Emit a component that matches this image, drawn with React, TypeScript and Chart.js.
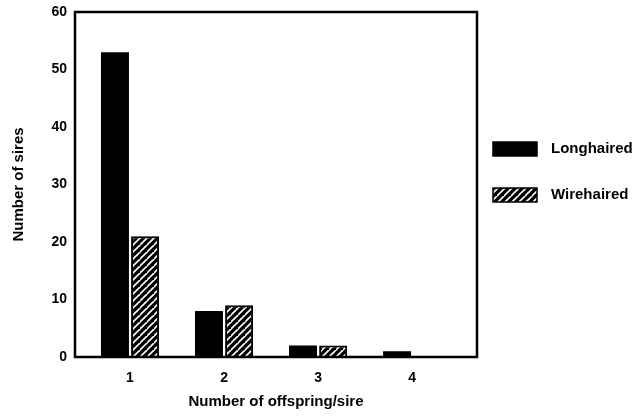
import React, { useEffect, useRef } from "react";
import { Chart, registerables } from "chart.js";

Chart.register(...registerables);

const categories = [1, 2, 3, 4];
const longhaired = [53, 8, 2, 1];
const wirehaired = [21, 9, 2, 0];
const seriesLabels = ["Longhaired", "Wirehaired"];
const yTicks = [0, 10, 20, 30, 40, 50, 60];

const FONT = "'Liberation Sans', Arial, sans-serif";

function makeHatch(): CanvasPattern | string {
  const c = document.createElement("canvas");
  const s = 7;
  c.width = s;
  c.height = s;
  const g = c.getContext("2d");
  if (!g) return "#000";
  g.fillStyle = "#000";
  g.fillRect(0, 0, s, s);
  g.strokeStyle = "#fff";
  g.lineWidth = 1.6;
  g.beginPath();
  g.moveTo(-1, s + 1);
  g.lineTo(s + 1, -1);
  g.moveTo(-s - 1, s + 1);
  g.lineTo(1, -1);
  g.moveTo(s - 1, 2 * s + 1);
  g.lineTo(2 * s + 1, s - 1);
  g.stroke();
  const p = g.createPattern(c, "repeat");
  return p || "#000";
}

const boxPlugin = {
  id: "frameBox",
  afterDatasetsDraw(chart: any) {
    const { ctx, chartArea } = chart;
    ctx.save();
    ctx.strokeStyle = "#000";
    ctx.lineWidth = 2.5;
    ctx.strokeRect(chartArea.left, chartArea.top, chartArea.right - chartArea.left, chartArea.bottom - chartArea.top);
    ctx.restore();
  },
};

const legendPlugin = {
  id: "sideLegend",
  afterDraw(chart: any) {
    const { ctx, chartArea } = chart;
    const x0 = chartArea.right + 16;
    const y0 = chartArea.top + 130;
    const gap = 46;
    ctx.save();
    chart.data.datasets.forEach((ds: any, i: number) => {
      const y = y0 + i * gap;
      ctx.fillStyle = ds.backgroundColor;
      ctx.fillRect(x0, y, 44, 14);
      ctx.strokeStyle = "#000";
      ctx.lineWidth = 1.5;
      ctx.strokeRect(x0, y, 44, 14);
      ctx.fillStyle = "#000";
      ctx.font = `bold 15px ${FONT}`;
      ctx.textBaseline = "middle";
      ctx.textAlign = "left";
      ctx.fillText(ds.label, x0 + 58, y + 7);
    });
    ctx.restore();
  },
};

export default function App() {
  const ref = useRef<HTMLCanvasElement | null>(null);

  useEffect(() => {
    if (!ref.current) return;
    const hatch = makeHatch();
    const chart = new Chart(ref.current, {
      type: "bar",
      data: {
        datasets: [
          {
            label: seriesLabels[0],
            data: categories.map((c, i) => ({ x: c, y: longhaired[i] })),
            backgroundColor: "#000",
            borderColor: "#000",
            borderWidth: 0,
            categoryPercentage: 0.64,
            barPercentage: 0.93,
          },
          {
            label: seriesLabels[1],
            data: categories.map((c, i) => ({ x: c, y: wirehaired[i] })),
            backgroundColor: hatch as any,
            borderColor: "#000",
            borderWidth: 2,
            categoryPercentage: 0.64,
            barPercentage: 0.93,
          },
        ],
      },
      options: {
        animation: false,
        responsive: false,
        maintainAspectRatio: false,
        layout: { padding: { left: 10, top: 12, right: 160, bottom: 0 } },
        plugins: {
          legend: { display: false },
          tooltip: { enabled: false },
        },
        scales: {
          x: {
            type: "linear",
            offset: false,
            min: 0.415,
            max: 4.69,
            grid: { display: false, drawTicks: true, tickLength: 8 },
            border: { display: false },
            afterBuildTicks: (scale: any) => {
              scale.ticks = categories.map((v) => ({ value: v }));
            },
            afterFit: (scale: any) => {
              scale.height = 60;
            },
            ticks: {
              color: "#000",
              padding: 5,
              font: { family: FONT, size: 14, weight: "bold" },
              callback: (v: any) => String(v),
            },
            title: {
              display: true,
              text: "Number of offspring/sire",
              color: "#000",
              font: { family: FONT, size: 15, weight: "bold" },
              padding: { top: 0, bottom: 6 },
            },
          },
          y: {
            min: 0,
            max: 60,
            grid: { display: false, drawTicks: true, tickLength: 8 },
            border: { display: false },
            afterBuildTicks: (scale: any) => {
              scale.ticks = yTicks.map((v) => ({ value: v }));
            },
            afterFit: (scale: any) => {
              scale.width = 65;
            },
            ticks: {
              color: "#000",
              padding: 0,
              font: { family: FONT, size: 14, weight: "bold" },
            },
            title: {
              display: true,
              text: "Number of sires",
              color: "#000",
              font: { family: FONT, size: 15, weight: "bold" },
              padding: { top: 0, bottom: 4 },
            },
          },
        },
      },
      plugins: [boxPlugin, legendPlugin],
    });
    return () => chart.destroy();
  }, []);

  return (
    <div style={{ position: "fixed", left: 0, top: 0, width: 637, height: 417, background: "#fff" }}>
      <canvas ref={ref} width={637} height={417} style={{ width: 637, height: 417 }} />
    </div>
  );
}
